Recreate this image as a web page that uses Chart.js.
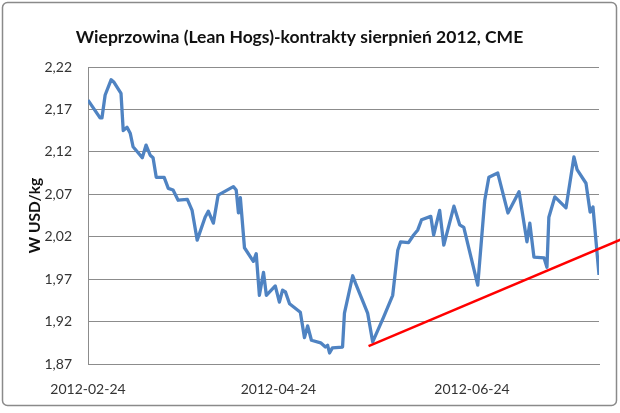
<!DOCTYPE html>
<html><head><meta charset="utf-8">
<script src="https://cdn.jsdelivr.net/npm/chart.js@4/dist/chart.umd.min.js"></script>
<style>html,body{margin:0;padding:0;background:#fff;}canvas{display:block;}</style>
</head><body>
<canvas id="c" width="620" height="413"></canvas>
<script>
const chartTitle = 'Wieprzowina (Lean Hogs)-kontrakty sierpnień 2012, CME';
const yAxisTitle = 'W USD/kg';
const xTickDays = [0, 60, 121];
const xTickLabels = ['2012-02-24', '2012-04-24', '2012-06-24'];
const yTickValues = [1.87, 1.92, 1.97, 2.02, 2.07, 2.12, 2.17, 2.22];

// days since 2012-02-24
const priceDays = [0,3.8,4.4,5.4,7.3,8.2,10.4,11.1,12.3,13.3,
  14.2,15.8,17.1,18.3,19.6,20.5,21.5,24.0,25.3,26.8,
  28.4,31.3,32.8,34.4,36.9,37.9,39.5,41.0,45.8,46.7,
  47.4,48.0,49.3,52.1,53.0,54.0,55.3,56.2,59.0,60.3,
  61.3,62.2,63.5,66.9,68.2,69.2,70.4,73.3,74.8,75.5,
  76.1,77.0,80.2,80.8,83.4,84.3,86.8,88.1,89.7,93.1,
  96.0,97.6,98.5,101.0,102.6,103.9,105.1,108.0,108.9,110.8,
  112.1,115.3,117.1,118.4,122.8,125.0,126.3,129.1,132.3,135.8,
  138.3,139.2,140.5,143.7,144.6,145.2,147.1,150.6,153.1,154.1,
  156.9,158.2,159.1,161.0];
const prices = [2.181,2.160,2.160,2.187,2.205,2.202,2.189,2.145,2.149,2.142,
  2.126,2.119,2.113,2.128,2.116,2.113,2.090,2.090,2.077,2.075,
  2.063,2.064,2.051,2.016,2.043,2.050,2.036,2.069,2.079,2.075,
  2.048,2.066,2.007,1.991,2.000,1.951,1.978,1.951,1.962,1.943,
  1.957,1.955,1.941,1.931,1.901,1.915,1.898,1.895,1.890,1.892,
  1.883,1.889,1.890,1.930,1.974,1.965,1.942,1.930,1.896,1.925,
  1.951,2.004,2.014,2.013,2.022,2.028,2.040,2.044,2.022,2.051,
  2.010,2.056,2.034,2.031,1.963,2.063,2.090,2.095,2.048,2.073,
  2.014,2.036,1.996,1.995,1.984,2.043,2.067,2.054,2.114,2.099,
  2.083,2.049,2.055,1.975];

const trendDays = [88.4, 168];
const trendValues = [1.891, 2.017];

const framePlugin = {
  id: 'frame',
  beforeDraw(chart) {
    const ctx = chart.ctx;
    ctx.save();
    ctx.fillStyle = '#ffffff';
    ctx.fillRect(0, 0, chart.width, chart.height);
    ctx.strokeStyle = '#8a8a8a';
    ctx.lineWidth = 1.5;
    ctx.beginPath();
    ctx.roundRect(2.5, 2.5, 614, 403, 5);
    ctx.stroke();
    ctx.restore();
  }
};

const gridColor = '#8c8c8c';

new Chart(document.getElementById('c'), {
  type: 'line',
  data: {
    datasets: [
      {
        label: 'trend',
        data: trendDays.map((d, i) => ({x: d, y: trendValues[i]})),
        borderColor: '#ff0000',
        borderWidth: 2.5,
        pointRadius: 0,
        tension: 0,
        clip: false,
        order: 0
      },
      {
        label: 'price',
        data: priceDays.map((d, i) => ({x: d, y: prices[i]})),
        borderColor: '#4f83c2',
        borderWidth: 3.3,
        borderJoinStyle: 'round',
        pointRadius: 0,
        tension: 0,
        order: 1
      }
    ]
  },
  options: {
    responsive: false,
    animation: false,
    layout: {padding: {left: 0, right: 21, top: 0, bottom: 0}},
    plugins: {
      legend: {display: false},
      tooltip: {enabled: false},
      title: {
        display: true,
        text: chartTitle,
        color: '#111',
        font: {family: 'Lato', size: 17.5, weight: 'bold', lineHeight: 1.2},
        padding: {top: 26.5, bottom: 19.5}
      }
    },
    scales: {
      x: {
        type: 'linear',
        min: 0,
        max: priceDays[priceDays.length - 1],
        afterFit: s => { s.height = 49; },
        afterBuildTicks: s => { s.ticks = xTickDays.map(v => ({value: v})); },
        grid: {display: false, drawTicks: false},
        border: {display: true, color: gridColor, width: 1},
        ticks: {
          autoSkip: false,
          maxRotation: 0,
          padding: 17,
          color: '#333',
          font: {family: 'Lato', size: 14},
          callback: v => { const i = xTickDays.indexOf(v); return i >= 0 ? xTickLabels[i] : ''; }
        }
      },
      y: {
        min: yTickValues[0],
        max: yTickValues[yTickValues.length - 1],
        afterFit: s => { s.width = 88; },
        afterBuildTicks: s => { s.ticks = yTickValues.map(v => ({value: v})); },
        grid: {color: gridColor, lineWidth: 1, drawTicks: false},
        border: {display: true, color: gridColor, width: 1},
        ticks: {
          padding: 16,
          color: '#333',
          font: {family: 'Lato', size: 14},
          callback: v => Number(v).toFixed(2).replace('.', ',')
        },
        title: {
          display: true,
          text: yAxisTitle,
          color: '#111',
          font: {family: 'Lato', size: 15.5, weight: 'bold', lineHeight: 1.2},
          padding: {top: 26, bottom: 0}
        }
      }
    }
  },
  plugins: [framePlugin]
});
</script>
</body></html>
